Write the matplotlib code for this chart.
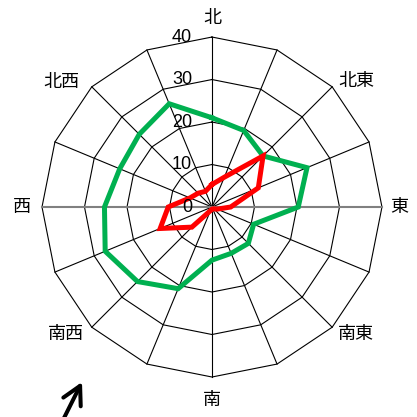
import numpy as np
import matplotlib
matplotlib.use("Agg")
import matplotlib.pyplot as plt

plt.rcParams['font.family'] = ['Liberation Sans', 'Noto Sans CJK JP', 'DejaVu Sans']

# 16 compass directions, clockwise from north
directions = ['北', '北北東', '北東', '東北東', '東', '東南東', '南東', '南南東',
              '南', '南南西', '南西', '西南西', '西', '西北西', '北西', '北北西']
shown_labels = ['北', '北東', '東', '南東', '南', '南西', '西', '北西']
green_values = [21.0, 19.5, 17.0, 24.2, 20.3, 10.6, 12.1, 11.8,
                12.5, 20.8, 24.8, 27.2, 25.3, 23.5, 24.2, 26.3]
red_values = [5.3, 7.6, 17.0, 11.8, 4.4, 1.3, 0.6, 0.5,
              0.5, 0.9, 6.7, 13.2, 10.3, 5.6, 4.6, 4.0]
rings = [10, 20, 30, 40]
ring_labels = ['0', '10', '20', '30', '40']

n = len(directions)
theta = np.arange(n) * 2 * np.pi / n
theta_c = np.append(theta, theta[0])

fig = plt.figure(figsize=(4.17, 4.17), dpi=100)
ax = fig.add_axes([0.1007, 0.0959, 0.8153, 0.8153], projection='polar')
ax.set_theta_zero_location('N')
ax.set_theta_direction(-1)
ax.set_ylim(0, 40)
ax.grid(False)
ax.set_xticks([])
ax.set_yticks([])
ax.spines['polar'].set_visible(False)
ax.patch.set_visible(False)

# polygon rings
for r in rings:
    ax.plot(theta_c, [r] * (n + 1), color='black', lw=0.8, clip_on=False, zorder=1)
# spokes
for i, t in enumerate(theta):
    if i == 4 or i == 12:
        continue
    ax.plot([t, t], [0, 40], color='black', lw=0.8, clip_on=False, zorder=1)
# east-west axis (gray)
ax.plot([theta[4], theta[4]], [0, 40], color='#808080', lw=1.5, clip_on=False, zorder=1.5)
ax.plot([theta[12], theta[12]], [0, 40], color='#808080', lw=1.5, clip_on=False, zorder=1.5)

# series
ax.plot(theta_c, green_values + green_values[:1], color='#00B050', lw=3.6,
        solid_joinstyle='miter', clip_on=False, zorder=3)
ax.plot(theta_c, red_values + red_values[:1], color='#FF0000', lw=3.6,
        solid_joinstyle='miter', clip_on=False, zorder=4)

# radial labels
for lab, r in zip(ring_labels, [0] + rings):
    ax.annotate(lab, xy=(0, r), xytext=(-20, 0), textcoords='offset pixels',
                ha='right', va='center', fontsize=13, family='Liberation Sans',
                annotation_clip=False, zorder=5)

# direction labels
label_pos = {
    '北': ((0, 10), 'center', 'bottom'),
    '北東': ((6, 6), 'left', 'center'),
    '東': ((8, 0), 'left', 'center'),
    '南東': ((6, -7), 'left', 'center'),
    '南': ((0, -14), 'center', 'top'),
    '南西': ((-8, -7), 'right', 'center'),
    '西': ((-11, 0), 'right', 'center'),
    '北西': ((-12, 5), 'right', 'center'),
}
for lab in shown_labels:
    i = directions.index(lab)
    off, ha, va = label_pos[lab]
    ax.annotate(lab, xy=(theta[i], 40), xytext=off, textcoords='offset pixels',
                ha=ha, va=va, fontsize=13, family=['Noto Sans CJK JP', 'DejaVu Sans'],
                annotation_clip=False)

# arrow at bottom left
ax.annotate('', xy=(82, 35), xytext=(63, -3), xycoords='figure pixels',
            textcoords='figure pixels', annotation_clip=False,
            arrowprops=dict(arrowstyle='->,head_length=1.3,head_width=0.7',
                            lw=2.9, color='black', mutation_scale=10,
                            shrinkA=0, shrinkB=0))

fig.savefig('out.png', dpi=100)
